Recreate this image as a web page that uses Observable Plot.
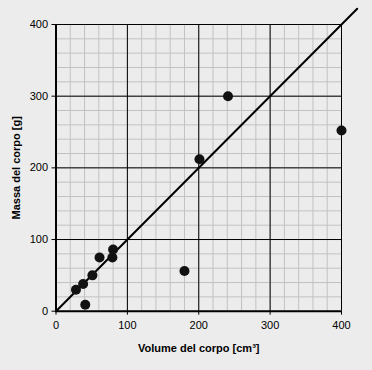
<!DOCTYPE html>
<html><head><meta charset="utf-8">
<script src="https://cdn.jsdelivr.net/npm/d3@7"></script>
<script src="https://cdn.jsdelivr.net/npm/@observablehq/plot@0.6"></script>
<style>body{margin:0;background:#ececec;}</style>
</head><body><div id="chart"></div>
<script>
const volumes = [28, 38, 41, 51, 61, 79, 80, 180, 201, 241, 400];
const masses  = [30, 38, 9, 50, 75, 75, 86, 56, 212, 300, 252];
const majorTicks = [0, 100, 200, 300, 400];
const minorTicks = d3.range(0, 401, 20);
const refLine = [[0, 0], [422, 422]];
const data = volumes.map((v, i) => ({v, m: masses[i]}));

const chart = Plot.plot({
  width: 372, height: 370,
  marginLeft: 55.5, marginRight: 31, marginTop: 24, marginBottom: 59.3,
  style: {background: "#ececec", fontFamily: "'Liberation Sans', Arial, sans-serif", fontSize: "11px", color: "#000"},
  x: {domain: [0, 400]},
  y: {domain: [0, 400]},
  marks: [
    Plot.gridX(minorTicks, {stroke: "#c2c2c2", strokeOpacity: 1}),
    Plot.gridY(minorTicks, {stroke: "#c2c2c2", strokeOpacity: 1}),
    Plot.gridX(majorTicks.slice(1), {stroke: "#000", strokeOpacity: 1}),
    Plot.gridY(majorTicks.slice(1), {stroke: "#000", strokeOpacity: 1}),
    Plot.ruleX([0], {stroke: "#000", strokeWidth: 2}),
    Plot.ruleY([0], {stroke: "#000", strokeWidth: 2}),
    Plot.axisX({ticks: majorTicks, tickSize: 4, tickPadding: 6, fill: "#000", stroke: "#000", label: "Volume del corpo [cm³]", labelAnchor: "center", labelArrow: "none", labelOffset: 41, fontSize: 11}),
    Plot.axisY({ticks: majorTicks, tickSize: 4, tickPadding: 4, fill: "#000", stroke: "#000", label: "Massa del corpo [g]", labelAnchor: "center", labelArrow: "none", labelOffset: 44, fontSize: 11}),
    Plot.line(refLine, {x: d => d[0], y: d => d[1], stroke: "#000", strokeWidth: 2}),
    Plot.dot(data, {x: "v", y: "m", r: 5, fill: "#111", stroke: "none"})
  ]
});
d3.select(chart).selectAll("[aria-label='x-axis label'] text, [aria-label='y-axis label'] text").attr("font-weight", "bold");
document.getElementById("chart").appendChild(chart);
</script>
</body></html>
